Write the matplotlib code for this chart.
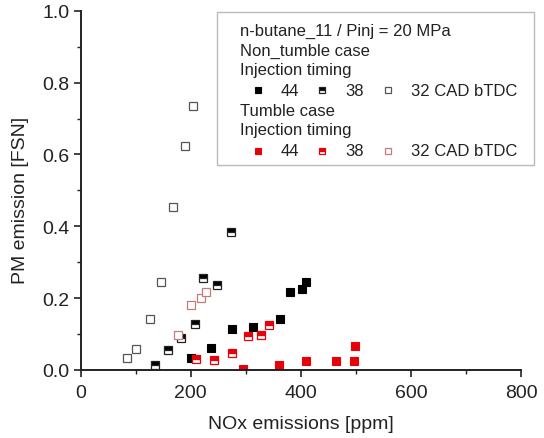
import matplotlib
matplotlib.use("Agg")
import matplotlib.pyplot as plt
from matplotlib.lines import Line2D
from matplotlib.patches import Rectangle

plt.rcParams['font.family'] = ['Liberation Sans', 'DejaVu Sans']

# Non-tumble case, injection timing (CAD bTDC)
nt44_x = [200, 237, 275, 313, 362, 380, 403, 409]
nt44_y = [0.033, 0.060, 0.113, 0.120, 0.141, 0.218, 0.225, 0.244]
nt38_x = [135, 159, 182, 208, 223, 248, 273]
nt38_y = [0.014, 0.056, 0.088, 0.128, 0.255, 0.236, 0.383]
nt32_x = [85, 101, 126, 147, 168, 190, 204]
nt32_y = [0.033, 0.058, 0.141, 0.245, 0.454, 0.625, 0.735]

# Tumble case, injection timing (CAD bTDC)
t44_x = [295, 360, 410, 464, 496, 499]
t44_y = [0.003, 0.013, 0.024, 0.026, 0.026, 0.068]
t38_x = [209, 242, 275, 304, 328, 343]
t38_y = [0.030, 0.029, 0.047, 0.095, 0.097, 0.126]
t32_x = [177, 200, 219, 228]
t32_y = [0.098, 0.181, 0.200, 0.216]

x_ticks = [0, 200, 400, 600, 800]
y_ticks = [0.0, 0.2, 0.4, 0.6, 0.8, 1.0]

RED = '#e8000b'
ROSE = '#c47a7a'
GREY = '#555555'

styles = {
    'nt44': dict(marker='s', ms=6.2, mfc='black', mec='black', mew=0.8),
    'nt38': dict(marker='s', ms=5.4, mfc='black', mfcalt='white', fillstyle='top', mec='#222222', mew=0.9),
    'nt32': dict(marker='s', ms=5.6, mfc='white', mec=GREY, mew=0.9),
    't44': dict(marker='s', ms=6.2, mfc=RED, mec=RED, mew=0.8),
    't38': dict(marker='s', ms=5.4, mfc=RED, mfcalt='white', fillstyle='top', mec=RED, mew=0.9),
    't32': dict(marker='s', ms=5.6, mfc='white', mec=ROSE, mew=0.9),
}


def mk(style):
    s = dict(style)
    alt = s.pop('mfcalt', None)
    if alt is not None:
        s['markerfacecoloralt'] = alt
    return s


fig = plt.figure(figsize=(5.44, 4.39), dpi=100)
ax = fig.add_axes([0.148, 0.155, 0.810, 0.818])

ax.plot(nt32_x, nt32_y, ls='none', **mk(styles['nt32']))
ax.plot(nt38_x, nt38_y, ls='none', **mk(styles['nt38']))
ax.plot(nt44_x, nt44_y, ls='none', **mk(styles['nt44']))
ax.plot(t32_x, t32_y, ls='none', **mk(styles['t32']))
ax.plot(t38_x, t38_y, ls='none', **mk(styles['t38']))
ax.plot(t44_x, t44_y, ls='none', **mk(styles['t44']))

ax.set_xlim(0, 800)
ax.set_ylim(0, 1.0)
ax.set_xticks(x_ticks)
ax.set_xticklabels([str(v) for v in x_ticks])
ax.set_yticks(y_ticks)
ax.set_yticklabels([f"{v:.1f}" for v in y_ticks])
ax.set_xticks([100, 300, 500, 700], minor=True)
ax.set_yticks([0.1, 0.3, 0.5, 0.7, 0.9], minor=True)

for side in ('top', 'right'):
    ax.spines[side].set_visible(False)
for side in ('left', 'bottom'):
    ax.spines[side].set_linewidth(1.4)
    ax.spines[side].set_color('#222222')
ax.tick_params(which='major', direction='out', length=5, width=1.2,
               labelsize=14, colors='#222222', pad=3)
ax.tick_params(which='minor', direction='out', length=3, width=1.0, colors='#222222')
ax.tick_params(axis='x', which='major', pad=5)

ax.set_xlabel('NOx emissions [ppm]', fontsize=14, color='#222222', labelpad=10)
ax.set_ylabel('PM emission [FSN]', fontsize=14, color='#222222')
ax.yaxis.set_label_coords(-0.118, 0.475)

# Legend panel in figure pixel units
W, H = 544, 439


def fx(px):
    return px / W


def fy(py):
    return 1 - py / H


fig.patches.append(Rectangle((fx(217), fy(166)), fx(534) - fx(217), fy(13) - fy(166),
                             transform=fig.transFigure, fill=True, facecolor='white',
                             edgecolor='#bbbbbb', lw=1.0, zorder=5))

lines = [("n-butane_11 / Pinj = 20 MPa", 31), ("Non_tumble case", 51),
         ("Injection timing", 71), ("Tumble case", 111), ("Injection timing", 131)]
for txt, py in lines:
    fig.text(fx(240), fy(py), txt, fontsize=12, va='center', ha='left',
             color='#222222', zorder=6)

for row_y, keys in ((91, ('nt44', 'nt38', 'nt32')), (152, ('t44', 't38', 't32'))):
    for key, mx, tx, label in zip(keys, (258, 322, 388), (281, 345, 411),
                                  ('44', '38', '32 CAD bTDC')):
        st = mk(styles[key])
        st['ms'] = 5.0
        fig.lines.append(Line2D([fx(mx)], [fy(row_y)], ls='none',
                                transform=fig.transFigure, zorder=7, **st))
        fig.text(fx(tx), fy(row_y), label, fontsize=12, va='center', ha='left',
                 color='#222222', zorder=6)

fig.savefig('out.png', dpi=100)
